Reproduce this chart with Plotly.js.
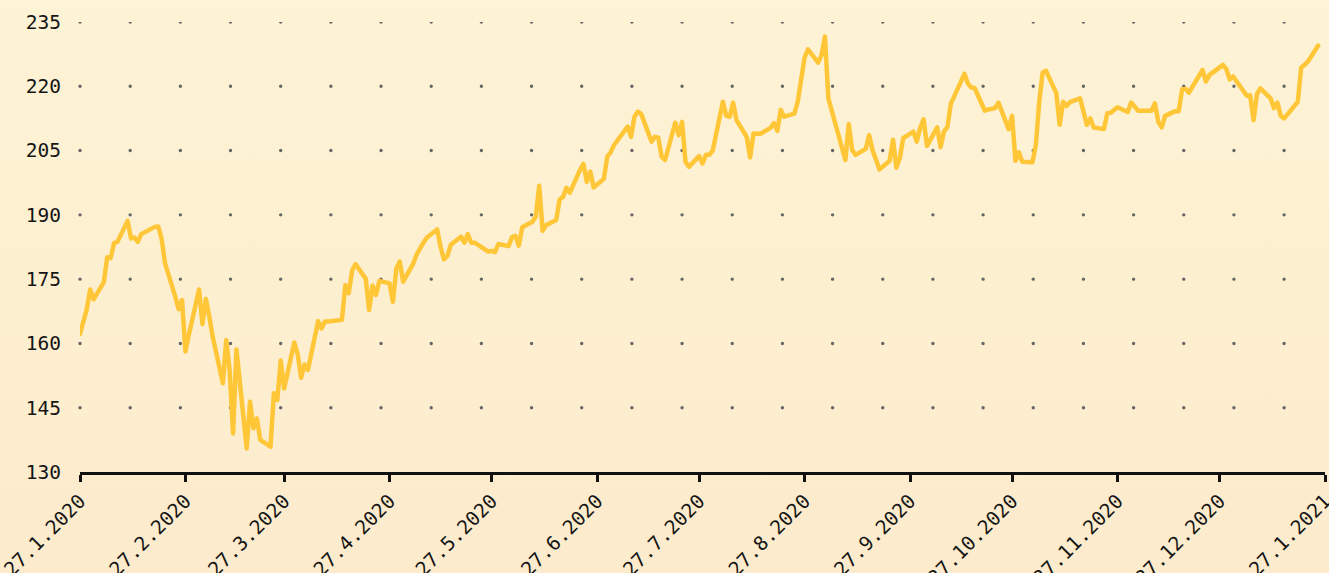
<!DOCTYPE html>
<html>
<head>
<meta charset="utf-8">
<script src="https://cdn.plot.ly/plotly-3.0.1.min.js"></script>
<style>
  html, body { margin: 0; padding: 0; }
  body { width: 1329px; height: 573px; overflow: hidden;
         background: linear-gradient(to bottom, #fdf4d5 0%, #fcebcc 100%); }
  #chart { width: 1329px; height: 573px; }
  .scatterlayer path.js-line { stroke-linejoin: round; stroke-linecap: round; }
  .shapelayer path { stroke-linecap: round; stroke-dashoffset: 37.7px; }
</style>
</head>
<body>
<div id="chart"></div>
<script>
// Trading dates (close prices)
const dates = [
  "2020-01-27","2020-01-28","2020-01-29","2020-01-30","2020-01-31",
  "2020-02-03","2020-02-04","2020-02-05","2020-02-06","2020-02-07","2020-02-10","2020-02-11","2020-02-12","2020-02-13","2020-02-14",
  "2020-02-18","2020-02-19","2020-02-20","2020-02-21","2020-02-24","2020-02-25","2020-02-26","2020-02-27","2020-02-28",
  "2020-03-02","2020-03-03","2020-03-04","2020-03-05","2020-03-06","2020-03-09","2020-03-10","2020-03-11","2020-03-12","2020-03-13",
  "2020-03-16","2020-03-17","2020-03-18","2020-03-19","2020-03-20","2020-03-23","2020-03-24","2020-03-25","2020-03-26","2020-03-27",
  "2020-03-30","2020-03-31","2020-04-01","2020-04-02","2020-04-03","2020-04-06","2020-04-07","2020-04-08","2020-04-09",
  "2020-04-13","2020-04-14","2020-04-15","2020-04-16","2020-04-17","2020-04-20","2020-04-21","2020-04-22","2020-04-23","2020-04-24",
  "2020-04-27","2020-04-28","2020-04-29","2020-04-30","2020-05-01","2020-05-04","2020-05-05","2020-05-06","2020-05-07","2020-05-08",
  "2020-05-11","2020-05-12","2020-05-13","2020-05-14","2020-05-15","2020-05-18","2020-05-19","2020-05-20","2020-05-21","2020-05-22",
  "2020-05-26","2020-05-27","2020-05-28","2020-05-29","2020-06-01","2020-06-02","2020-06-03","2020-06-04","2020-06-05",
  "2020-06-08","2020-06-09","2020-06-10","2020-06-11","2020-06-12","2020-06-15","2020-06-16","2020-06-17","2020-06-18","2020-06-19",
  "2020-06-22","2020-06-23","2020-06-24","2020-06-25","2020-06-26","2020-06-29","2020-06-30","2020-07-01","2020-07-02",
  "2020-07-06","2020-07-07","2020-07-08","2020-07-09","2020-07-10","2020-07-13","2020-07-14","2020-07-15","2020-07-16","2020-07-17",
  "2020-07-20","2020-07-21","2020-07-22","2020-07-23","2020-07-24","2020-07-27","2020-07-28","2020-07-29","2020-07-30","2020-07-31",
  "2020-08-03","2020-08-04","2020-08-05","2020-08-06","2020-08-07","2020-08-10","2020-08-11","2020-08-12","2020-08-13","2020-08-14",
  "2020-08-17","2020-08-18","2020-08-19","2020-08-20","2020-08-21","2020-08-24","2020-08-25","2020-08-26","2020-08-27","2020-08-28",
  "2020-08-31","2020-09-01","2020-09-02","2020-09-03","2020-09-04","2020-09-08","2020-09-09","2020-09-10","2020-09-11",
  "2020-09-14","2020-09-15","2020-09-16","2020-09-17","2020-09-18","2020-09-21","2020-09-22","2020-09-23","2020-09-24","2020-09-25",
  "2020-09-28","2020-09-29","2020-09-30","2020-10-01","2020-10-02","2020-10-05","2020-10-06","2020-10-07","2020-10-08","2020-10-09",
  "2020-10-12","2020-10-13","2020-10-14","2020-10-15","2020-10-16","2020-10-19","2020-10-20","2020-10-21","2020-10-22","2020-10-23",
  "2020-10-26","2020-10-27","2020-10-28","2020-10-29","2020-10-30","2020-11-02","2020-11-03","2020-11-04","2020-11-05","2020-11-06",
  "2020-11-09","2020-11-10","2020-11-11","2020-11-12","2020-11-13","2020-11-16","2020-11-17","2020-11-18","2020-11-19","2020-11-20",
  "2020-11-23","2020-11-24","2020-11-25","2020-11-27","2020-11-30","2020-12-01","2020-12-02","2020-12-03","2020-12-04",
  "2020-12-07","2020-12-08","2020-12-09","2020-12-10","2020-12-11","2020-12-14","2020-12-15","2020-12-16","2020-12-17","2020-12-18",
  "2020-12-21","2020-12-22","2020-12-23","2020-12-24","2020-12-28","2020-12-29","2020-12-30","2020-12-31",
  "2021-01-04","2021-01-05","2021-01-06","2021-01-07","2021-01-08","2021-01-11","2021-01-12","2021-01-13","2021-01-14","2021-01-15",
  "2021-01-19","2021-01-20","2021-01-21","2021-01-22","2021-01-25"
];
const closes = [
  162.2,165.0,168.0,172.6,170.3,
  174.3,180.1,179.9,183.4,183.7,188.6,184.5,184.7,183.7,185.5,
  187.2,187.3,184.4,178.7,170.9,168.0,170.1,158.1,162.0,
  172.6,164.5,170.4,166.3,161.6,150.7,160.8,153.6,139.0,158.6,
  135.5,146.4,140.2,142.5,137.5,135.9,148.4,146.8,156.0,149.5,
  160.2,157.5,152.0,155.1,153.8,165.2,163.5,165.1,165.1,
  165.5,173.6,171.7,177.0,178.5,175.1,167.8,173.5,171.3,174.6,
  174.0,169.7,177.5,179.1,174.4,178.7,180.8,182.5,183.6,184.7,
  186.6,182.5,179.6,180.4,183.0,184.9,183.5,185.5,183.5,183.5,
  181.4,181.6,181.3,183.2,182.7,184.8,185.1,182.8,187.1,
  188.4,189.6,196.8,186.3,187.6,188.8,193.6,194.2,196.3,195.2,
  200.5,201.9,197.7,200.1,196.4,198.4,203.6,204.6,206.3,
  210.6,208.2,212.9,214.1,213.5,207.1,208.2,208.0,203.6,202.8,
  211.5,208.6,211.7,202.4,201.2,203.7,202.0,204.0,204.0,205.0,
  216.4,213.1,212.9,216.2,212.1,208.2,203.4,209.0,208.9,208.9,
  210.3,211.4,209.6,214.5,212.9,213.6,216.4,221.1,226.7,228.6,
  225.5,227.3,231.6,217.2,214.3,202.8,211.2,205.1,204.0,
  205.4,208.6,205.1,202.9,200.6,202.6,207.5,201.0,203.2,207.9,
  209.4,207.1,210.3,212.3,206.1,210.4,205.8,209.5,210.5,215.9,
  221.4,222.9,220.7,219.7,219.6,214.3,214.6,214.8,214.9,216.2,
  210.0,213.1,202.6,204.6,202.4,202.3,206.3,216.4,223.2,223.6,
  218.4,211.0,216.4,215.4,216.3,217.2,214.4,211.0,212.5,210.4,
  210.0,213.7,213.8,215.1,214.0,216.2,215.3,214.3,214.3,
  214.3,216.0,211.7,210.4,213.1,214.2,214.2,219.3,219.4,218.5,
  222.5,223.8,221.1,222.6,225.0,224.0,221.6,222.3,
  217.8,217.9,212.1,218.2,219.5,217.2,214.9,216.2,213.1,212.5,
  216.4,224.4,225.0,225.8,229.5
];

// Axis ticks
const xTickDates = ["2020-01-27","2020-02-27","2020-03-27","2020-04-27","2020-05-27","2020-06-27",
                    "2020-07-27","2020-08-27","2020-09-27","2020-10-27","2020-11-27","2020-12-27","2021-01-27"];
const xTickLabels = ["27.1.2020","27.2.2020","27.3.2020","27.4.2020","27.5.2020","27.6.2020",
                     "27.7.2020","27.8.2020","27.9.2020","27.10.2020","27.11.2020","27.12.2020","27.1.2021"];
const yTickValues = [130,145,160,175,190,205,220,235];
const xRange = ["2020-01-27","2021-01-27"];
const yRange = [130,235];

const tickFont = { family: "DejaVu Sans Mono, Liberation Mono, monospace", size: 19.5, color: "#151515" };

const trace = {
  type: "scatter",
  mode: "lines",
  x: dates,
  y: closes,
  line: { color: "#ffc638", width: 4.5 },
  hoverinfo: "skip",
  cliponaxis: false
};

// dotted horizontal grid rows, one per y tick (the 130 row is the axis line)
const gridShapes = yTickValues.filter(v => v !== yRange[0]).map(v => ({
  type: "line",
  xref: "paper", x0: -0.01, x1: 1.0016,
  yref: "y", y0: v, y1: v,
  layer: "below",
  line: { color: "#666666", width: 3.4, dash: "0.01px,50.16px" }
}));

const layout = {
  width: 1329,
  height: 573,
  margin: { l: 80, r: 4, t: 22, b: 101, pad: 0 },
  paper_bgcolor: "rgba(0,0,0,0)",
  plot_bgcolor: "rgba(0,0,0,0)",
  showlegend: false,
  shapes: gridShapes,
  xaxis: {
    type: "date",
    range: xRange,
    tickmode: "array",
    tickvals: xTickDates,
    ticktext: xTickLabels,
    tickangle: -45,
    tickfont: tickFont,
    ticklabeloverflow: "allow",
    showgrid: false,
    zeroline: false,
    showline: true,
    linecolor: "#111111",
    linewidth: 3,
    ticks: "outside",
    ticklen: 7,
    tickwidth: 3,
    tickcolor: "#111111",
    fixedrange: true
  },
  yaxis: {
    range: yRange,
    tickmode: "array",
    tickvals: yTickValues,
    ticktext: yTickValues.map(String),
    tickfont: tickFont,
    ticklabeloverflow: "allow",
    showgrid: false,
    zeroline: false,
    showline: false,
    ticks: "",
    ticklabelstandoff: 18,
    fixedrange: true
  }
};

Plotly.newPlot("chart", [trace], layout, { staticPlot: true, displayModeBar: false });
</script>
</body>
</html>
